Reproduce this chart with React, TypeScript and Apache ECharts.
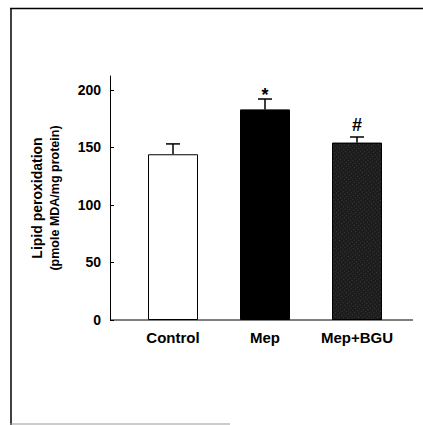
import React, { useEffect, useRef } from "react";
import * as echarts from "echarts";

const categories = ["Control", "Mep", "Mep+BGU"];
const means = [144, 183, 154];
const errors = [9, 9, 5];
const marks = ["", "*", "#"];
const yTicks = [0, 50, 100, 150, 200];
const yNameLine1 = "Lipid peroxidation";
const yNameLine2 = "(pmole MDA/mg protein)";

export default function App() {
  const ref = useRef<HTMLDivElement>(null);
  useEffect(() => {
    document.body.style.margin = "0";
    const chart = echarts.init(ref.current!, null, { renderer: "svg" });
    const font = "'Liberation Sans', Arial, Helvetica, sans-serif";
    const barColors = ["#ffffff", "#000000", "#1c1c1c"];
    const barData = means.map((v, i) => ({
      value: v,
      itemStyle: {
        color: barColors[i],
        borderColor: "#000",
        borderWidth: 1,
        decal:
          i === 2
            ? {
                symbol: "rect",
                symbolSize: 0.6,
                color: "rgba(255,255,255,0.5)",
                dashArrayX: [1, 1.5],
                dashArrayY: [1, 1.5],
                rotation: 0.9,
              }
            : "none",
      },
    }));
    chart.setOption({
      animation: false,
      backgroundColor: "#fff",
      grid: { left: 127, right: 20, top: 76, bottom: 105 },
      xAxis: {
        type: "category",
        data: categories,
        axisLine: { show: false },
        axisTick: { show: false },
        axisLabel: {
          interval: 0,
          hideOverlap: false,
          color: "#000",
          fontFamily: font,
          fontWeight: "bold",
          fontSize: 15,
          margin: 10,
        },
      },
      yAxis: {
        type: "value",
        min: 0,
        max: 212,
        interval: 50,
        offset: 17,
        splitLine: { show: false },
        axisLine: { show: true, lineStyle: { color: "#000", width: 1 } },
        axisTick: {
          show: true,
          inside: true,
          length: 4,
          customValues: yTicks,
          lineStyle: { color: "#000" },
        },
        axisLabel: {
          customValues: yTicks,
          color: "#000",
          fontFamily: font,
          fontWeight: "bold",
          fontSize: 14,
          margin: 9,
        },
        name: `{a|${yNameLine1}}\n{b|${yNameLine2}}`,
        nameLocation: "middle",
        nameRotate: 90,
        nameGap: 46,
        nameTextStyle: {
          color: "#000",
          fontFamily: font,
          fontWeight: "bold",
          rich: {
            a: { fontFamily: font, fontWeight: "bold", fontSize: 14, lineHeight: 18, color: "#000" },
            b: { fontFamily: font, fontWeight: "bold", fontSize: 12.5, lineHeight: 18, color: "#000" },
          },
        },
      },
      series: [
        {
          type: "bar",
          data: barData,
          barWidth: 50,
        },
        {
          type: "custom",
          data: means.map((m, i) => [i, m, errors[i]]),
          renderItem: (params: any, api: any) => {
            const i = api.value(0);
            const m = api.value(1);
            const e = api.value(2);
            const base = api.coord([i, m]);
            const top = api.coord([i, m + e]);
            const cap = 7;
            const children: any[] = [
              {
                type: "line",
                shape: { x1: base[0], y1: base[1], x2: top[0], y2: top[1] },
                style: { stroke: "#000", lineWidth: 1.5 },
              },
              {
                type: "line",
                shape: { x1: top[0] - cap, y1: top[1], x2: top[0] + cap, y2: top[1] },
                style: { stroke: "#000", lineWidth: 1.5 },
              },
            ];
            const mk = marks[params.dataIndex];
            if (mk) {
              children.push({
                type: "text",
                x: top[0],
                y: mk === "*" ? top[1] + 5 : top[1] - 3,
                style: {
                  text: mk,
                  fill: "#000",
                  font: `bold 18px ${font}`,
                  align: "center",
                  verticalAlign: "bottom",
                },
              });
            }
            return { type: "group", children };
          },
          z: 5,
        },
      ],
      graphic: [
        {
          type: "line",
          shape: { x1: 110, y1: 320, x2: 413, y2: 320 },
          style: { stroke: "#000", lineWidth: 1 },
        },
        {
          type: "line",
          shape: { x1: 10, y1: 8.5, x2: 423, y2: 8.5 },
          style: { stroke: "#000", lineWidth: 1.5 },
        },
        {
          type: "line",
          shape: { x1: 11, y1: 8, x2: 11, y2: 425 },
          style: { stroke: "#000", lineWidth: 1.5 },
        },
        {
          type: "line",
          shape: { x1: 10, y1: 424, x2: 230, y2: 424 },
          style: { stroke: "#999", lineWidth: 1 },
        },
      ],
    });
    return () => chart.dispose();
  }, []);
  return <div ref={ref} style={{ width: 423, height: 425 }} />;
}
